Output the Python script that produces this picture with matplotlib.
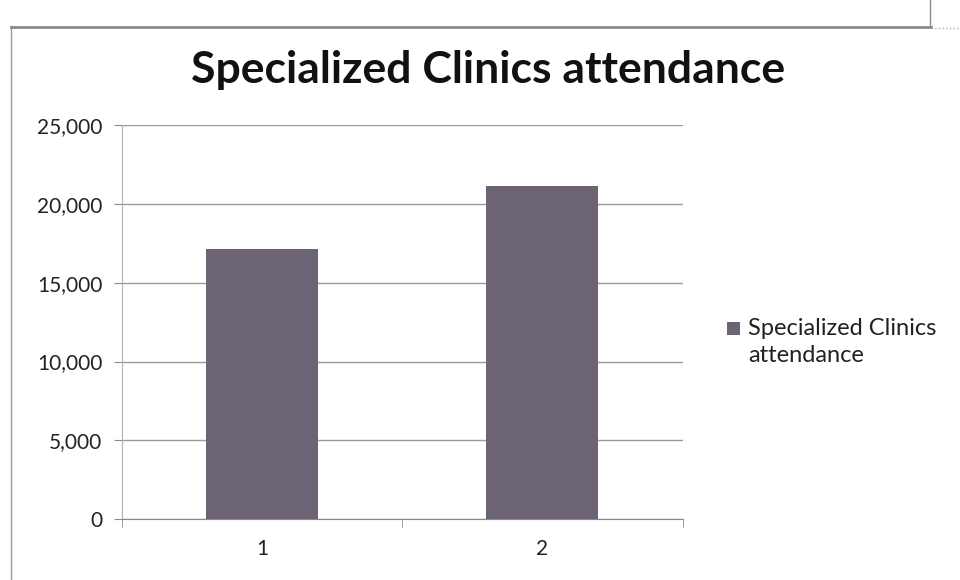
import matplotlib
matplotlib.use("Agg")
import matplotlib.pyplot as plt
from matplotlib.lines import Line2D
from matplotlib.patches import Rectangle
import numpy as np

categories = ["1", "2"]
values = [17150, 21150]
series_name = "Specialized Clinics\nattendance"
title = "Specialized Clinics attendance"
yticks = [0, 5000, 10000, 15000, 20000, 25000]

plt.rcParams['font.family'] = ['Lato', 'DejaVu Sans']

fig = plt.figure(figsize=(9.6, 5.8), dpi=100)
ax = fig.add_axes([0.127, 0.105, 0.584, 0.679])

x = np.arange(1, len(categories) + 1)
bar_color = '#6c6474'
ax.bar(x, values, width=0.4, color=bar_color, zorder=3)

ax.set_xlim(0.5, len(categories) + 0.5)
ax.set_ylim(0, 25000)
ax.set_yticks(yticks)
ax.set_yticklabels([f"{v:,}" for v in yticks], fontsize=15, color='#222222')
ax.yaxis.grid(True, color='#9a9a9a', linewidth=1.0, zorder=0)

ax.set_xticks(x)
ax.set_xticklabels(categories, fontsize=15, color='#222222')
ax.tick_params(axis='x', which='major', length=0, pad=14)
ax.set_xticks(np.arange(0.5, len(categories) + 1, 1.0), minor=True)
ax.tick_params(axis='x', which='minor', length=6, color='#8a8a8a', direction='out')
ax.tick_params(axis='y', length=6, color='#8a8a8a', direction='out', pad=8)

for s in ['top', 'right']:
    ax.spines[s].set_visible(False)
ax.spines['left'].set_color('#b0b0b0')
ax.spines['bottom'].set_color('#8a8a8a')

fig.text(0.508, 0.879, title, fontsize=32, fontweight='bold', ha='center', va='center', color='#111111')

# legend (manual, to align marker with first line as in reference)
fig.add_artist(Rectangle((727 / 960, 1 - 335 / 580), 13 / 960, 13 / 580,
                         transform=fig.transFigure, facecolor=bar_color, edgecolor='none'))
fig.text(748 / 960, 1 - 342 / 580, series_name, fontsize=17, ha='left', va='center',
         color='#222222', linespacing=1.35)

# screenshot frame lines
fig.add_artist(Line2D([0.011, 0.011], [0, 0.955], transform=fig.transFigure, color='#9a9a9a', lw=1))
fig.add_artist(Line2D([0.011, 0.97], [0.953, 0.953], transform=fig.transFigure, color='#8a8a8a', lw=2))
fig.add_artist(Line2D([0.969, 0.969], [0.953, 1.0], transform=fig.transFigure, color='#8a8a8a', lw=1))
fig.add_artist(Line2D([0.97, 1.0], [0.951, 0.951], transform=fig.transFigure, color='#b0b0b0', lw=1, ls=':'))

fig.savefig("out.png", dpi=100)
